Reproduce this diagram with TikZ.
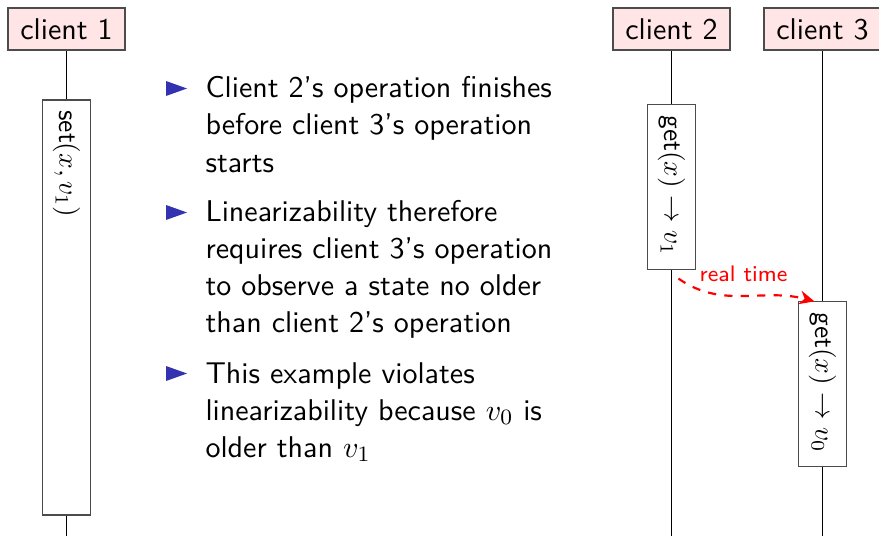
\documentclass[tikz,border=0pt]{standalone}
\usetikzlibrary{arrows.meta,calc}
\definecolor{structblue}{rgb}{0.2,0.2,0.7}
\definecolor{clientfill}{rgb}{1,0.9,0.9}
\begin{document}
\begin{tikzpicture}[x=0.365pt,y=-0.365pt,
  client/.style={draw=black!70,fill=clientfill,minimum width=42.7pt,minimum height=15.3pt,inner sep=0pt,
    font=\sffamily\fontsize{10.95}{13}\selectfont},
  opbox/.style={draw=black!70,fill=white,rotate=-90,inner xsep=3.8pt,inner ysep=0pt,minimum height=17.2pt,
    align=left,font=\sffamily\fontsize{10}{12}\selectfont},
  life/.style={draw=black,line width=0.4pt},
  txt/.style={anchor=base west,inner sep=0pt,font=\sffamily\fontsize{10.95}{13}\selectfont},
  rt/.style={red,dashed,line width=0.8pt,-{Stealth[length=5.5pt,width=5pt]}}]
\useasboundingbox (0,0) rectangle (879,536);
\clip (0,0) rectangle (879,536);
% clients
\node[client] (c1) at (66.5,29) {client 1};
\node[client] (c2) at (671.5,29) {client 2};
\node[client] (c3) at (822.5,29) {client 3};
% bottoms
\coordinate (b1) at (66.5,540);
\coordinate (b2) at (671.5,540);
\coordinate (b3) at (822.5,540);
% operations
\node[opbox,text width=143.9pt] (op1) at (66.5,307.5) {set$(x, v_1)$};
\node[opbox,text width=52.3pt] (op2) at (671.5,187) {get$(x)\rightarrow v_1$};
\node[opbox,text width=52.3pt] (op3) at (822.5,384) {get$(x)\rightarrow v_0$};
% lifelines
\draw[life] (c1.south) -- (op1.west);
\draw[life] (op1.east) -- (b1);
\draw[life] (c2.south) -- (op2.west);
\draw[life] (op2.east) -- (b2);
\draw[life] (c3.south) -- (op3.west);
\draw[life] (op3.east) -- (b3);
% real time arrow
\coordinate (rs) at ($(op2.east)+(7,9)$);
\coordinate (re) at ($(op3.west)+(-8,0)$);
\draw[rt] (rs) to[out=-35,in=165]
  node[pos=0.5,above=5pt,inner sep=0pt,font=\sffamily\fontsize{8.2}{9}\selectfont,text=red] {real time} (re);
% bullets
\fill[structblue] (166,81) -- (166,96) -- (187,88.5) -- cycle;
\fill[structblue] (166,205) -- (166,220) -- (187,212.5) -- cycle;
\fill[structblue] (166,366) -- (166,381) -- (187,373.5) -- cycle;
\node[txt] (l1) at (205,98) {Client 2's operation finishes};
\node[txt] (l2) at (205,135) {before client 3's operation};
\node[txt] (l3) at (205,173) {starts};
\node[txt] (l4) at (205,222) {Linearizability therefore};
\node[txt] (l5) at (205,259) {requires client 3's operation};
\node[txt] (l6) at (205,296) {to observe a state no older};
\node[txt] (l7) at (205,333) {than client 2's operation};
\node[txt] (l8) at (205,383) {This example violates};
\node[txt] (l9) at (205,420) {linearizability because $v_0$ is};
\node[txt] (l10) at (205,457) {older than $v_1$};
\end{tikzpicture}
\end{document}
